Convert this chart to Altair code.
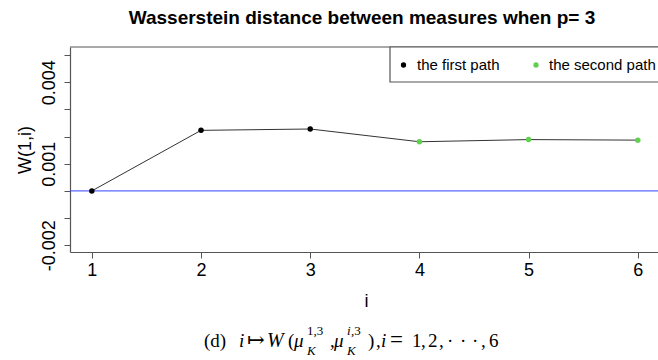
import altair as alt
import pandas as pd

# Wasserstein distance W(1, i) for each measure index i
steps = [1, 2, 3, 4, 5, 6]
distance = [0.0, 0.00223, 0.00228, 0.00181, 0.00189, 0.00187]
path = ["the first path", "the first path", "the first path",
        "the second path", "the second path", "the second path"]

path_names = ["the first path", "the second path"]
path_colors = ["#000000", "#61D04F"]

y_ticks = [-0.002, -0.001, 0.0, 0.001, 0.002, 0.003, 0.004, 0.005]

df = pd.DataFrame({"i": steps, "w": distance, "path": path})

LEFT = 70
W, H = 658 - LEFT, 205
SANS = "Liberation Sans"
SERIF = "Liberation Serif, DejaVu Serif"
FRAME = "#555555"

one = alt.Data(values=[{}])

x_axis = alt.Axis(values=steps, format="d", title=None, grid=False, tickSize=6,
                  labelFontSize=18, labelFont=SANS, labelColor="black",
                  labelPadding=3, domainColor=FRAME, tickColor=FRAME,
                  domainWidth=1.2, labelFlush=False)
y_axis = alt.Axis(values=y_ticks, title=None, grid=False, tickSize=6,
                  labelFontSize=18, labelFont=SANS, labelColor="black",
                  labelAngle=270, labelAlign="center", labelBaseline="bottom",
                  labelPadding=6, domainColor=FRAME, tickColor=FRAME,
                  domainWidth=1.2, labelFlush=False, labelOverlap=False,
                  labelExpr=("abs(datum.value-0.004)<1e-7 ? '0.004' : "
                             "abs(datum.value-0.001)<1e-7 ? '0.001' : "
                             "abs(datum.value+0.002)<1e-7 ? '-0.002' : ''"))
# the frame runs a little past the right edge of the page
x_scale = alt.Scale(domain=[0.8, 6.185], nice=False, zero=False)
y_scale = alt.Scale(domain=[-0.00225, 0.0053], nice=False, zero=False)

base = alt.Chart(df)

line = base.mark_line(color="#333333", strokeWidth=1).encode(
    x=alt.X("i:Q", scale=x_scale, axis=x_axis),
    y=alt.Y("w:Q", scale=y_scale, axis=y_axis),
)
points = base.mark_circle(size=30, opacity=1).encode(
    x=alt.X("i:Q", scale=x_scale, axis=x_axis),
    y=alt.Y("w:Q", scale=y_scale, axis=y_axis),
    color=alt.Color("path:N", scale=alt.Scale(domain=path_names, range=path_colors), legend=None),
)

# horizontal reference line at zero
zero_line = alt.Chart(one).mark_rule(color="#3344ff", strokeWidth=1).encode(
    y=alt.Y(datum=0, type="quantitative", scale=y_scale, axis=y_axis))
top_border = alt.Chart(one).mark_rule(color=FRAME, strokeWidth=1.2).encode(
    x=alt.value(0), x2=alt.value(W), y=alt.value(0))

# legend box
legend_box = alt.Chart(one).mark_rect(fill="white", stroke=FRAME, strokeWidth=1.2).encode(
    x=alt.value(320), x2=alt.value(640), y=alt.value(0), y2=alt.value(35))
legend_layers = [legend_box]
for name, col, dx, tx in zip(path_names, path_colors, [333.5, 466], [347, 479]):
    legend_layers.append(alt.Chart(one).mark_circle(size=28, color=col, opacity=1).encode(
        x=alt.value(dx), y=alt.value(18)))
    legend_layers.append(alt.Chart(one).mark_text(
        text=name, font=SANS, fontSize=15, align="left", baseline="middle", color="black"
    ).encode(x=alt.value(tx), y=alt.value(18)))

title = alt.Chart(one).mark_text(
    text="Wasserstein distance between measures when p= 3", font=SANS, fontSize=19,
    fontWeight="bold", align="center", baseline="alphabetic", color="black"
).encode(x=alt.value(292), y=alt.value(-23))

y_title = alt.Chart(one).mark_text(
    text="W(1,i)", font=SANS, fontSize=18, angle=270, align="center", baseline="middle",
    color="black").encode(x=alt.value(-44), y=alt.value(103))
x_title = alt.Chart(one).mark_text(
    text="i", font=SANS, fontSize=18, align="center", baseline="alphabetic",
    color="black").encode(x=alt.value(296.5), y=alt.value(260))

# caption: (d) i ↦ W(μ_K^{1,3}, μ_K^{i,3}), i = 1, 2, ⋯ , 6
MAIN, SUP, SUB = 300, 288, 308
M, S = 19, 13
caption_parts = [
    ("(d)", 204, MAIN, M, "normal"),
    ("i", 239, MAIN, M, "italic"),
    ("↦", 247, MAIN, 21, "normal"),
    ("W", 267, MAIN, M + 1, "italic"),
    ("(", 288, MAIN, M, "normal"),
    ("μ", 294, MAIN, M, "italic"),
    ("1,3", 307, SUP, S, "normal"),
    ("K", 307, SUB, S, "italic"),
    (",", 330, MAIN, M, "normal"),
    ("μ", 334, MAIN, M, "italic"),
    ("i", 347, SUP, S, "italic"),
    (",3", 351, SUP, S, "normal"),
    ("K", 347, SUB, S, "italic"),
    (")", 368, MAIN, M, "normal"),
    (",", 376, MAIN, M, "normal"),
    ("i", 381, MAIN, M, "italic"),
    ("=", 390, MAIN, M + 4, "normal"),
    ("1", 412, MAIN, M, "normal"),
    (",", 421, MAIN, M, "normal"),
    ("2", 428, MAIN, M, "normal"),
    (",", 439, MAIN, M, "normal"),
    ("·", 447, MAIN, M, "normal"),
    ("·", 460, MAIN, M, "normal"),
    ("·", 472, MAIN, M, "normal"),
    (",", 481, MAIN, M, "normal"),
    ("6", 489, MAIN, M, "normal"),
]
caption_layers = [
    alt.Chart(one).mark_text(text=t, font=SERIF, fontSize=fs, fontStyle=st,
                             align="left", baseline="alphabetic", color="black"
                             ).encode(x=alt.value(px - LEFT), y=alt.value(py))
    for t, px, py, fs, st in caption_parts
]

chart = alt.layer(
    zero_line, line, points, top_border, *legend_layers, title, y_title, x_title,
    *caption_layers
).properties(
    width=W, height=H,
    autosize=alt.AutoSizeParams(type="none"),
    padding={"left": LEFT, "top": 47, "right": 0, "bottom": 108},
    background="white",
).configure_view(stroke=None)

chart.save("out.html", embed_options={"renderer": "svg", "actions": False})
